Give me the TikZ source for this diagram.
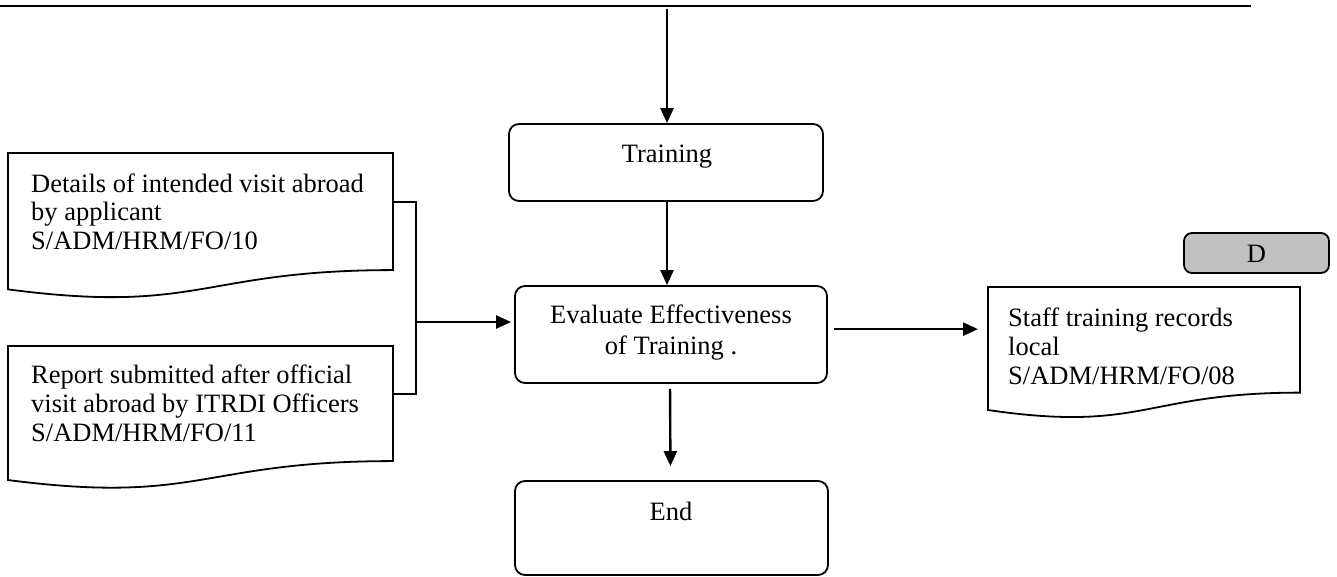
\documentclass[tikz,border=0pt]{standalone}
\usepackage{fontspec}
\setmainfont{Liberation Serif}
\usetikzlibrary{arrows.meta}

\definecolor{dboxfill}{RGB}{192,192,192}

% Flowchart "document" symbol: name, x-left, y-top, x-right, height
\newcommand{\flowdoc}[5]{%
  \draw[docline] (#2,#3) coordinate (#1-nw) -- (#4,#3) coordinate (#1-ne)
    -- (#4,{#3+0.802*#5}) coordinate (#1-se)
    .. controls ({(#2+#4)/2},{#3+0.802*#5}) and ({(#2+#4)/2},{#3+1.1075*#5})
    .. (#2,{#3+0.934*#5}) coordinate (#1-sw) -- cycle;
  \coordinate (#1-e) at (#4,{#3+0.335*#5});
  \coordinate (#1-w) at (#2,{#3+0.32*#5});
}

\begin{document}
\begin{tikzpicture}[x=1pt,y=-1pt,
  every node/.style={font=\fontsize{26.5}{29}\selectfont},
  procbox/.style={draw, line width=1.8pt, rounded corners=10pt, inner sep=0pt},
  docline/.style={line width=1.8pt, line join=miter},
  conn/.style={line width=2.4pt},
  arr/.style={line width=2.4pt, -{Triangle[length=15pt,width=13pt]}},
  txt/.style={inner sep=0pt, align=left},
  ctxt/.style={inner sep=0pt, align=center}]
\useasboundingbox (0,0) rectangle (1337,577);

% header rule
\draw[line width=2.4pt] (0,6) coordinate (rule-l) -- (1251,6) coordinate (rule-r);
\coordinate (feed) at (667,9);

% process boxes (multi-line text is placed by the baseline of its last line)
\node[procbox, minimum width=314pt, minimum height=77pt] (train) at (666,162.5) {};
\node[ctxt, anchor=base] (trainT) at (667,163) {Training};

\node[procbox, minimum width=312pt, minimum height=97pt] (eval) at (671,334.5) {};
\node[ctxt, anchor=base] (evalT) at (671,354) {Evaluate Effectiveness\\[1.5pt] of Training .};

\node[procbox, minimum width=313pt, minimum height=94pt] (endbox) at (671.5,528) {};
\node[ctxt, anchor=base] (endT) at (671,520) {End};

\node[procbox, fill=dboxfill, rounded corners=8pt, minimum width=145pt, minimum height=40pt] (dbox) at (1256.5,253) {};
\node[ctxt, anchor=base] (dT) at (1256.5,262) {D};

% documents
\flowdoc{d1}{8}{153}{393}{146}
\node[txt, anchor=base west] (d1T) at (31,250) {Details of intended visit abroad\\by applicant\\S/ADM/HRM/FO/10};

\flowdoc{d2}{8}{346}{393}{143.5}
\node[txt, anchor=base west] (d2T) at (31,441) {Report submitted after official\\visit abroad by ITRDI Officers\\S/ADM/HRM/FO/11};

\flowdoc{st}{988}{287}{1300}{131.7}
\node[txt, anchor=base west] (stT) at (1008,384) {Staff training records\\local\\S/ADM/HRM/FO/08};

% connectors
\draw[arr] (feed) -- (feed |- train.north);
\draw[arr] (train.south -| feed) -- (feed |- eval.north);
\draw[arr, shorten <=5pt, shorten >=14pt] ([xshift=-1pt]eval.south) -- ([xshift=-1pt]endbox.north);

\coordinate (bus) at (416,322);
\draw[conn] (d1-e) -| (bus) |- (d2-e);
\draw[arr, shorten >=3pt] (bus) -- (eval.west |- bus);

\draw[arr, shorten <=6pt, shorten >=10pt] (eval.east |- st-w) -- (st-w);
\end{tikzpicture}
\end{document}
